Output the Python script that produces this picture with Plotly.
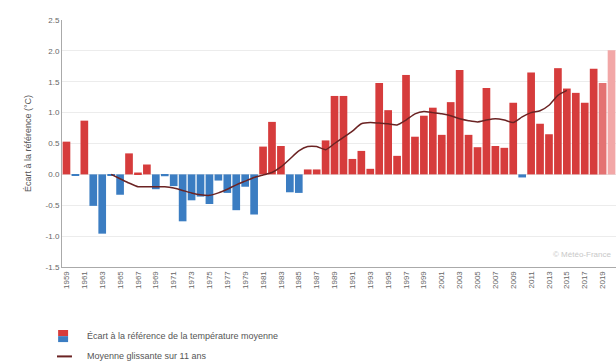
import plotly.graph_objects as go

# ---- data ----
years = list(range(1959, 2021))
anomaly = [
    0.53, -0.02, 0.87, -0.51, -0.96, -0.02, -0.33, 0.34, 0.03, 0.16,
    -0.24, -0.03, -0.19, -0.76, -0.42, -0.36, -0.48, -0.10, -0.30, -0.58,
    -0.20, -0.65, 0.45, 0.85, 0.46, -0.29, -0.30, 0.08, 0.08, 0.55,
    1.27, 1.27, 0.25, 0.38, 0.09, 1.48, 1.04, 0.30, 1.61, 0.61,
    0.95, 1.08, 0.64, 1.17, 1.69, 0.64, 0.44, 1.40, 0.46, 0.43,
    1.16, -0.05, 1.65, 0.82, 0.65, 1.72, 1.39, 1.32, 1.16, 1.71,
    1.48, 2.01,
]
ma_years = list(range(1964, 2016))
ma_values = [
    0.00, -0.07, -0.14, -0.20, -0.20, -0.20, -0.20, -0.22, -0.26, -0.30,
    -0.33, -0.34, -0.30, -0.24, -0.17, -0.11, -0.05, -0.01, 0.03, 0.12,
    0.25, 0.38, 0.45, 0.45, 0.40, 0.50, 0.60, 0.70, 0.82, 0.84,
    0.83, 0.82, 0.80, 0.88, 0.98, 1.02, 1.00, 0.98, 0.95, 0.90,
    0.87, 0.85, 0.88, 0.90, 0.88, 0.84, 0.93, 1.00, 1.03, 1.12,
    1.28, 1.36,
]
y_ticks = [-1.5, -1.0, -0.5, 0.0, 0.5, 1.0, 1.5, 2.0, 2.5]
bar_label = "Écart à la référence de la température moyenne"
line_label = "Moyenne glissante sur 11 ans"
y_title = "Écart à la référence (°C)"
credit = "© Météo-France"

RED = "#d63c3c"
BLUE = "#3b7dc2"
LINE = "#6b2323"
PINK = ["#e47272", "#f2a7a7"]

colors = [RED if v >= 0 else BLUE for v in anomaly]
colors[-2] = PINK[0]
colors[-1] = PINK[1]

FONT = "Liberation Sans, Arial, sans-serif"

fig = go.Figure()
fig.add_trace(go.Bar(x=years, y=anomaly, marker=dict(color=colors, line=dict(width=0)),
                     name=bar_label, showlegend=False))
fig.add_trace(go.Scatter(x=ma_years, y=ma_values, mode="lines",
                         line=dict(color=LINE, width=1.5, shape="spline", smoothing=0.6),
                         name=line_label, showlegend=False))

# custom legend
fig.add_shape(type="rect", xref="paper", yref="paper", x0=-0.007, x1=0.011,
              y0=-0.28, y1=-0.255, fillcolor=RED, line=dict(width=0))
fig.add_shape(type="rect", xref="paper", yref="paper", x0=-0.007, x1=0.011,
              y0=-0.304, y1=-0.28, fillcolor=BLUE, line=dict(width=0))
fig.add_shape(type="line", xref="paper", yref="paper", x0=-0.009, x1=0.018,
              y0=-0.362, y1=-0.362, line=dict(color=LINE, width=2))
fig.add_annotation(xref="paper", yref="paper", x=0.042, y=-0.28, text=bar_label,
                   showarrow=False, xanchor="left", yanchor="middle",
                   font=dict(size=9, color="#555", family=FONT))
fig.add_annotation(xref="paper", yref="paper", x=0.042, y=-0.362, text=line_label,
                   showarrow=False, xanchor="left", yanchor="middle",
                   font=dict(size=9, color="#555", family=FONT))
fig.add_annotation(xref="paper", yref="paper", x=0.995, y=0.05, text=credit,
                   showarrow=False, xanchor="right", yanchor="middle",
                   font=dict(size=8, color="#c8c8c8", family=FONT))

fig.update_layout(
    width=616, height=361,
    margin=dict(l=62, r=0, t=20, b=94),
    paper_bgcolor="white", plot_bgcolor="white",
    bargap=0.14,
    font=dict(family=FONT, size=8, color="#666"),
    xaxis=dict(range=[1958.5, 2020.5], tickmode="array", tickvals=years[::2],
               ticktext=[str(y) for y in years[::2]], tickangle=-90,
               showgrid=False, showline=True, linecolor="#aaa", linewidth=1,
               ticks="", tickfont=dict(size=8, color="#666"), zeroline=False),
    yaxis=dict(range=[-1.5, 2.5], tickmode="array", tickvals=y_ticks,
               ticktext=[f"{v:.1f}" for v in y_ticks],
               showgrid=True, gridcolor="#ececec", gridwidth=1,
               showline=True, linecolor="#aaa", linewidth=1,
               zeroline=True, zerolinecolor="#e6e6e6", zerolinewidth=1,
               tickfont=dict(size=8, color="#666"),
               title=dict(text=y_title, font=dict(size=9, color="#555"), standoff=12)),
)

fig.write_html(
    "out.html",
    config={"displayModeBar": False},
    post_script="document.body.style.margin='0';document.body.style.overflow='hidden';",
)
